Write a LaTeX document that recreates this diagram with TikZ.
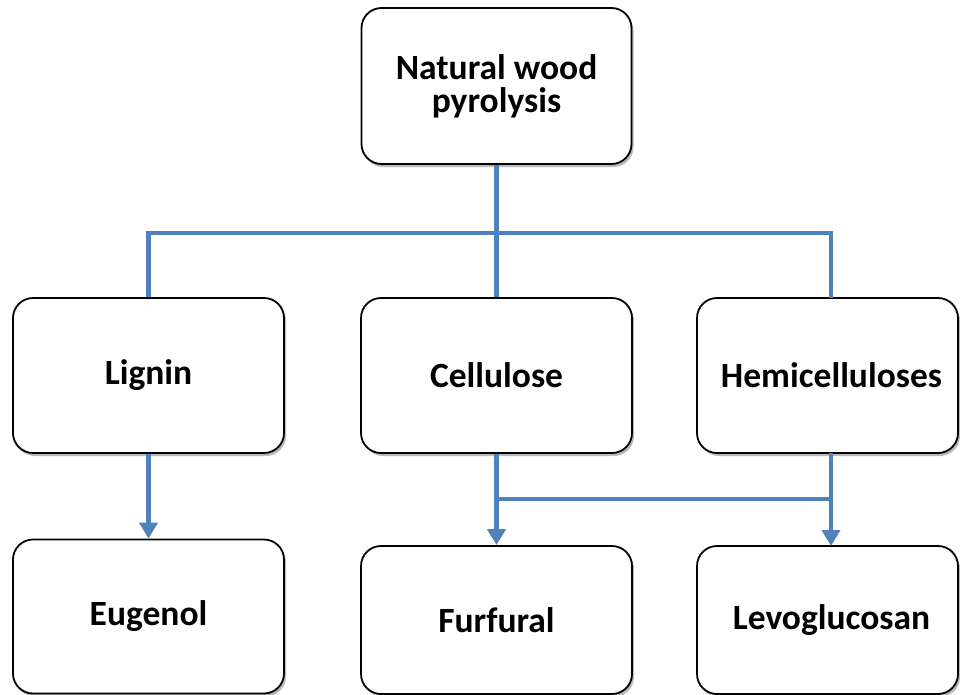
\documentclass[tikz,border=0pt]{standalone}
\usepackage{fontspec}
\setmainfont{Carlito}
\usetikzlibrary{arrows.meta,shadows}
\definecolor{lineblue}{HTML}{4F81BD}
\tikzset{
  box/.style={draw=black, line width=1.8pt, rounded corners=20pt, fill=white,
    drop shadow={shadow xshift=2pt, shadow yshift=-3pt, fill=black!45, opacity=.6},
    font=\fontsize{35.5}{33}\selectfont\bfseries, align=center, inner sep=0pt},
  conn/.style={draw=lineblue, line width=4.6pt},
  arr/.style={conn, -{Triangle[width=18pt,length=16pt]}}
}
\begin{document}
\begin{tikzpicture}[x=1pt,y=-1pt]
\useasboundingbox (0,0) rectangle (960,694);
\node[box, minimum width=270pt, minimum height=156pt] (top) at (496.5,86) {Natural wood\\pyrolysis};
\node[box, minimum width=271pt, minimum height=155pt] (lig) at (148.5,375.5) {Lignin};
\node[box, minimum width=271pt, minimum height=155pt] (cel) at (496.5,375.5) {Cellulose};
\node[box, minimum width=261pt, minimum height=155pt] (hem) at (827.5,375.5) {\hspace*{8pt}Hemicelluloses};
\node[box, minimum width=271pt, minimum height=154pt] (eug) at (148.5,616.5) {Eugenol};
\node[box, minimum width=271pt, minimum height=148pt] (fur) at (496.5,620) {Furfural};
\node[box, minimum width=261pt, minimum height=148pt] (lev) at (827.5,620) {\hspace*{8pt}Levoglucosan};
\coordinate (jt) at (496.5,233);
\coordinate (hemtop) at (831,298);
\coordinate (hembot) at (831,453);
\coordinate (levtop) at (831,546);
\coordinate (jb1) at (496.5,499);
\coordinate (jb2) at (831,499);
\draw[conn] (lig.north) |- (jt) -| (hemtop);
\draw[conn] (top.south) -- (cel.north);
\draw[arr] (lig.south) -- (eug.north);
\draw[arr] (cel.south) -- (fur.north);
\draw[arr] (hembot) -- (levtop);
\draw[conn] (jb1) -- (jb2);
\end{tikzpicture}
\end{document}
